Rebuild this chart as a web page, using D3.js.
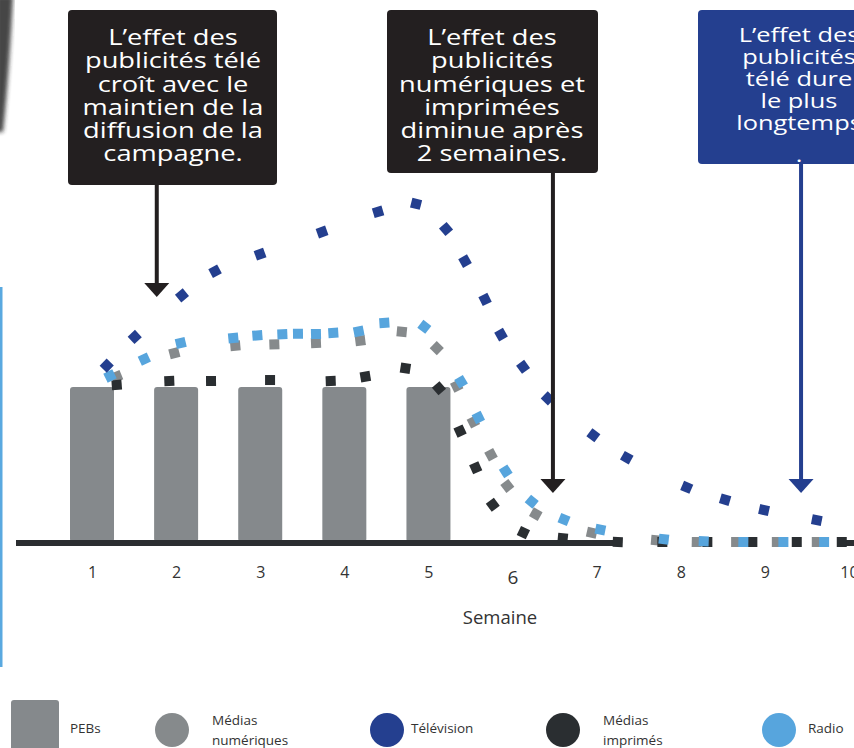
<!DOCTYPE html>
<html lang="fr">
<head>
<meta charset="utf-8">
<title>Effet des publicités par semaine</title>
<script src="https://cdn.jsdelivr.net/npm/d3@7"></script>
<style>
  body { margin: 0; background: #ffffff; }
  svg { display: block; font-family: "Open Sans", "Noto Sans", sans-serif; }
</style>
</head>
<body>
<svg id="chart" width="854" height="748"></svg>
<script>
// Weeks shown on the x axis
const weeks = [1, 2, 3, 4, 5, 6, 7, 8, 9, 10];
const axisTitle = "Semaine";

// PEB bars (campaign weeks), value 100 = full campaign level
const pebWeeks = [1, 2, 3, 4, 5];
const pebValues = [100, 100, 100, 100, 100];

// Dotted response curves: [week, value]
const tvPoints = [
  [1.175, 113.8], [1.508, 132.3], [2.070, 159.1], [2.463, 174.7], [2.998, 185.7],
  [3.735, 200.0], [4.401, 213.0], [4.853, 218.2], [5.209, 201.9], [5.435, 181.2],
  [5.673, 156.5], [5.863, 133.8], [6.125, 113.0], [6.419, 92.7], [6.961, 68.8],
  [7.358, 54.4], [8.071, 35.3], [8.527, 27.3], [8.990, 20.6], [9.617, 14.1]
];
const digitalPoints = [
  [1.294, 106.7], [1.979, 121.9], [2.704, 126.6], [3.168, 127.5], [3.663, 128.4],
  [4.190, 129.9], [4.683, 135.7], [5.099, 125.1], [5.336, 100.6], [5.534, 77.5],
  [5.744, 56.3], [5.938, 36.2], [6.276, 18.0], [6.942, 6.0], [7.706, 1.1],
  [8.190, 0], [8.658, 0], [9.142, 0], [9.617, 0]
];
const radioPoints = [
  [1.214, 107.1], [1.622, 118.0], [2.055, 128.4], [2.680, 131.6], [2.966, 133.3],
  [3.263, 134.0], [3.449, 134.4], [3.663, 134.2], [3.869, 134.9], [4.171, 135.9],
  [4.476, 141.4], [4.951, 138.8], [5.388, 103.4], [5.593, 80.3], [5.919, 45.6],
  [6.228, 26.0], [6.612, 14.5], [7.044, 8.0], [7.798, 1.8], [8.273, 0.5],
  [8.744, 0], [9.220, 0], [9.704, 0]
];
const printPoints = [
  [1.294, 101.3], [1.919, 103.9], [2.415, 103.9], [3.117, 104.5], [3.838, 103.9],
  [4.250, 106.7], [4.726, 112.1], [5.125, 99.2], [5.376, 71.6], [5.562, 47.9],
  [5.765, 24.0], [6.129, 6.0], [6.597, 2.4], [7.251, 0], [7.781, 0],
  [8.316, 0], [8.851, 0], [9.379, 0], [9.914, 0]
];

// Legend labels
const legendLabels = ["PEBs", "Médias\nnumériques", "Télévision", "Médias\nimprimés", "Radio"];

// Callout texts and the week each arrow points to
const calloutTexts = [
  ["L\u2019effet des", "publicités télé", "croît avec le", "maintien de la", "diffusion de la", "campagne."],
  ["L\u2019effet des", "publicités", "numériques et", "imprimées", "diminue  après", "2 semaines."],
  ["L\u2019effet des", "publicités", "télé  dure", "le plus", "longtemps", "."]
];
const calloutWeeks = [1.77, 6.48, 9.43];

// ---------------------------------------------------------------
const COLORS = {
  peb: "#85898c",
  digital: "#868a8c",
  tv: "#243f8f",
  print: "#2a2e31",
  radio: "#57a5dd",
  axis: "#2b2e31",
  box: "#231f20",
  text: "#333333"
};

const svg = d3.select("#chart");
const x = d3.scaleLinear().domain([1, 10]).range([92, 849]);
const y = d3.scaleLinear().domain([0, 100]).range([542, 387]);

// Decorative slide edges
const defs = svg.append("defs");
defs.append("filter").attr("id", "soft")
  .append("feGaussianBlur").attr("stdDeviation", 2);
svg.append("path")
  .attr("d", "M-4,-4 L13,-4 C11,35 8,85 3,132 L-4,132 Z")
  .attr("fill", "#262626").attr("opacity", 0.85)
  .attr("filter", "url(#soft)");
svg.append("rect")
  .attr("x", 0).attr("y", 287).attr("width", 2.5).attr("height", 380)
  .attr("fill", "#5aa9e0");

// Bars
const barW = 44;
svg.append("g").selectAll("rect")
  .data(pebWeeks.map((w, i) => ({ w, v: pebValues[i] })))
  .join("rect")
  .attr("x", d => x(d.w) - barW / 2)
  .attr("y", d => y(d.v))
  .attr("width", barW)
  .attr("height", d => y(0) - y(d.v))
  .attr("rx", 3)
  .attr("fill", COLORS.peb);

// Axis baseline
svg.append("line")
  .attr("x1", 16).attr("x2", x(7.3))
  .attr("y1", 543).attr("y2", 543)
  .attr("stroke", COLORS.axis).attr("stroke-width", 6);
svg.append("line")
  .attr("x1", x(9.95)).attr("x2", 854)
  .attr("y1", 543).attr("y2", 543)
  .attr("stroke", COLORS.axis).attr("stroke-width", 6);

// Dotted series drawn as square dashes oriented along the curve
function drawDots(points, color) {
  const px = points.map(([w, v]) => [x(w), y(v)]);
  const g = svg.append("g");
  g.selectAll("rect")
    .data(px.map((p, i) => {
      const a = px[Math.max(0, i - 1)], b = px[Math.min(px.length - 1, i + 1)];
      return { p, ang: Math.atan2(b[1] - a[1], b[0] - a[0]) * 180 / Math.PI };
    }))
    .join("rect")
    .attr("x", -5).attr("y", -5).attr("width", 10).attr("height", 10)
    .attr("transform", d => `translate(${d.p[0]},${d.p[1]}) rotate(${d.ang})`)
    .attr("fill", color);
}
drawDots(digitalPoints, COLORS.digital);
drawDots(printPoints, COLORS.print);
drawDots(radioPoints, COLORS.radio);
drawDots(tvPoints, COLORS.tv);

// X axis labels
const axis = d3.axisBottom(x).tickValues(weeks).tickSize(0).tickPadding(22)
  .tickFormat(d3.format("d"));
const ax = svg.append("g").attr("transform", "translate(0,545)").call(axis);
ax.select(".domain").remove();
ax.selectAll("text")
  .attr("fill", COLORS.text)
  .style("font-family", '"Open Sans", sans-serif')
  .style("font-size", d => d === 6 ? "19px" : "16px")
  .attr("dy", d => d === 6 ? "0.9em" : "0.71em");

svg.append("text")
  .attr("x", 500).attr("y", 624)
  .attr("text-anchor", "middle")
  .attr("fill", COLORS.text)
  .style("font-size", "18.5px")
  .text(axisTitle);

// Callouts: box, arrow tip and text layout
const callouts = [
  { box: [68, 10, 209, 175], fill: COLORS.box, cx: 173, y0: 45, lh: 23.3, fs: 22, tip: 297, extra: 0 },
  { box: [387, 10, 211, 163], fill: COLORS.box, cx: 492, y0: 45, lh: 23.3, fs: 22, tip: 493, extra: 0 },
  { box: [698, 10, 210, 154], fill: COLORS.tv, cx: 799, y0: 42, lh: 21.9, fs: 20.5, tip: 493, extra: 11 }
];
callouts.forEach((c, i) => {
  const g = svg.append("g");
  const [bx, by, bw, bh] = c.box;
  const ax0 = x(calloutWeeks[i]);
  g.append("line")
    .attr("x1", ax0).attr("x2", ax0)
    .attr("y1", by + bh).attr("y2", c.tip - 12)
    .attr("stroke", c.fill).attr("stroke-width", 4);
  g.append("path")
    .attr("d", `M${ax0 - 12.5},${c.tip - 14} L${ax0 + 12.5},${c.tip - 14} L${ax0},${c.tip} Z`)
    .attr("fill", c.fill);
  g.append("rect")
    .attr("x", bx).attr("y", by).attr("width", bw).attr("height", bh)
    .attr("rx", 4).attr("fill", c.fill);
  const lines = calloutTexts[i];
  const t = g.append("g").attr("transform", `translate(${c.cx},0) scale(1.24,1)`)
    .append("text")
    .attr("text-anchor", "middle")
    .attr("fill", "#ffffff")
    .style("font-size", c.fs + "px");
  lines.forEach((line, j) => {
    const yy = c.y0 + j * c.lh + (j === lines.length - 1 ? c.extra : 0);
    t.append("tspan").attr("x", 0).attr("y", yy).text(line);
  });
});

// Legend
const legendItems = [
  { shape: "rect", color: COLORS.peb, cx: 35, tx: 70 },
  { shape: "circle", color: COLORS.digital, cx: 172, tx: 212 },
  { shape: "circle", color: COLORS.tv, cx: 387, tx: 411 },
  { shape: "circle", color: COLORS.print, cx: 563, tx: 603 },
  { shape: "circle", color: COLORS.radio, cx: 779, tx: 808 }
];
const lg = svg.append("g");
legendItems.forEach((it, i) => {
  if (it.shape === "rect") {
    lg.append("rect").attr("x", it.cx - 24).attr("y", 700).attr("width", 48).attr("height", 60)
      .attr("rx", 3).attr("fill", it.color);
  } else {
    lg.append("circle").attr("cx", it.cx).attr("cy", 730).attr("r", 17).attr("fill", it.color);
  }
  const lines = legendLabels[i].split("\n");
  const txt = lg.append("text").attr("fill", COLORS.text).style("font-size", "13.5px");
  const base = lines.length === 1 ? 733 : 725;
  lines.forEach((l, j) => {
    txt.append("tspan").attr("x", it.tx).attr("y", base + j * 20).text(l);
  });
});
</script>
</body>
</html>
